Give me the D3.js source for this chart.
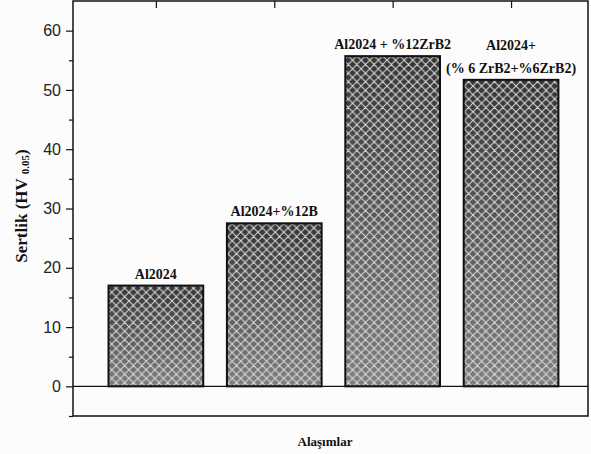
<!DOCTYPE html>
<html>
<head>
<meta charset="utf-8">
<script src="https://cdn.jsdelivr.net/npm/d3@7"></script>
<style>
  body { margin: 0; background: #fcfcfc; }
  svg { display: block; }
</style>
</head>
<body>
<div id="chart"></div>
<script>
const categories = ["Al2024", "Al2024+%12B", "Al2024 + %12ZrB2", "Al2024+\n(% 6 ZrB2+%6ZrB2)"];
const hardness = [17.0, 27.5, 55.7, 51.7];
const yTicks = [0, 10, 20, 30, 40, 50, 60];

const width = 591, height = 454;
const plotLeft = 73, plotRight = 588, plotTop = 1, plotBottom = 416;

const svg = d3.select("#chart").append("svg")
    .attr("width", width)
    .attr("height", height);

const x = d3.scaleLinear().domain([-0.7, 3.65]).range([plotLeft, plotRight]);
const y = d3.scaleLinear().domain([-5, 65]).range([plotBottom, plotTop]);
const barW = (x(1) - x(0)) * 0.8;

// fill: vertical gradient + crosshatch
const defs = svg.append("defs");
const grad = defs.append("linearGradient")
    .attr("id", "barGrad")
    .attr("x1", 0).attr("y1", 0).attr("x2", 0).attr("y2", 1);
grad.append("stop").attr("offset", "0%").attr("stop-color", "#363636");
grad.append("stop").attr("offset", "100%").attr("stop-color", "#7f7f7f");

const hatch = defs.append("pattern")
    .attr("id", "hatch")
    .attr("patternUnits", "userSpaceOnUse")
    .attr("width", 8.6).attr("height", 8.6);
hatch.append("path")
    .attr("d", "M0,0 L8.6,8.6 M8.6,0 L0,8.6 M-4.3,4.3 L4.3,-4.3 M4.3,12.9 L12.9,4.3 M-4.3,4.3 L4.3,12.9 M4.3,-4.3 L12.9,4.3")
    .attr("stroke", "#dcdcdc")
    .attr("stroke-width", 1)
    .attr("fill", "none");

// bars
const bars = svg.append("g");
bars.selectAll("rect.base")
    .data(hardness)
    .enter().append("rect")
    .attr("class", "base")
    .attr("x", (d, i) => x(i) - barW / 2)
    .attr("y", d => y(d))
    .attr("width", barW)
    .attr("height", d => y(0) - y(d))
    .attr("fill", "url(#barGrad)");
bars.selectAll("rect.hatch")
    .data(hardness)
    .enter().append("rect")
    .attr("class", "hatch")
    .attr("x", (d, i) => x(i) - barW / 2)
    .attr("y", d => y(d))
    .attr("width", barW)
    .attr("height", d => y(0) - y(d))
    .attr("fill", "url(#hatch)")
    .attr("stroke", "#111")
    .attr("stroke-width", 2);

// zero line
svg.append("line")
    .attr("x1", plotLeft).attr("x2", plotRight)
    .attr("y1", y(0)).attr("y2", y(0))
    .attr("stroke", "#111").attr("stroke-width", 1.2);

// frame
svg.append("rect")
    .attr("x", plotLeft).attr("y", plotTop)
    .attr("width", plotRight - plotLeft).attr("height", plotBottom - plotTop)
    .attr("fill", "none")
    .attr("stroke", "#111").attr("stroke-width", 1.5);

// left axis
const yAxis = svg.append("g")
    .attr("transform", `translate(${plotLeft},0)`)
    .call(d3.axisLeft(y).tickValues(yTicks).tickSize(7).tickPadding(5));
yAxis.select(".domain").remove();
yAxis.selectAll("line").attr("stroke", "#111").attr("stroke-width", 1.2);
yAxis.selectAll("text")
    .attr("fill", "#222")
    .style("font-family", "Liberation Sans, Arial, sans-serif")
    .style("font-size", "16px");
const minor = svg.append("g")
    .attr("transform", `translate(${plotLeft},0)`)
    .call(d3.axisLeft(y).tickValues(d3.range(-5, 65, 10)).tickSize(4).tickFormat(""));
minor.select(".domain").remove();
minor.selectAll("line").attr("stroke", "#111").attr("stroke-width", 1.2);

// top ticks at categories (inward)
const topAxis = svg.append("g")
    .attr("transform", `translate(0,${plotTop})`)
    .call(d3.axisTop(x).tickValues(d3.range(categories.length)).tickSize(-7).tickFormat(""));
topAxis.select(".domain").remove();
topAxis.selectAll("line").attr("stroke", "#111").attr("stroke-width", 1.2);

// bar labels
const serif = "Liberation Serif, Times New Roman, serif";
categories.forEach((c, i) => {
    const lines = c.split("\n");
    const t = svg.append("text")
        .attr("x", x(i))
        .attr("y", y(hardness[i]) - 7 - (lines.length - 1) * 23)
        .attr("text-anchor", "middle")
        .style("font-family", serif)
        .style("font-weight", "bold")
        .style("font-size", "14px")
        .attr("fill", "#111");
    lines.forEach((l, k) => {
        t.append("tspan").attr("x", x(i)).attr("dy", k === 0 ? 0 : 23).text(l);
    });
});

// axis titles
const yt = svg.append("text")
    .attr("transform", `translate(27,206) rotate(-90)`)
    .attr("text-anchor", "middle")
    .style("font-family", serif)
    .style("font-weight", "bold")
    .style("font-size", "17px")
    .attr("fill", "#111");
yt.append("tspan").text("Sertlik (HV ");
yt.append("tspan").style("font-size", "11px").attr("dy", 2).text("0.05");
yt.append("tspan").attr("dy", -2).text(")");

svg.append("text")
    .attr("x", 325)
    .attr("y", 446)
    .attr("text-anchor", "middle")
    .style("font-family", serif)
    .style("font-weight", "bold")
    .style("font-size", "13px")
    .attr("fill", "#111")
    .text("Alaşımlar");
</script>
</body>
</html>
